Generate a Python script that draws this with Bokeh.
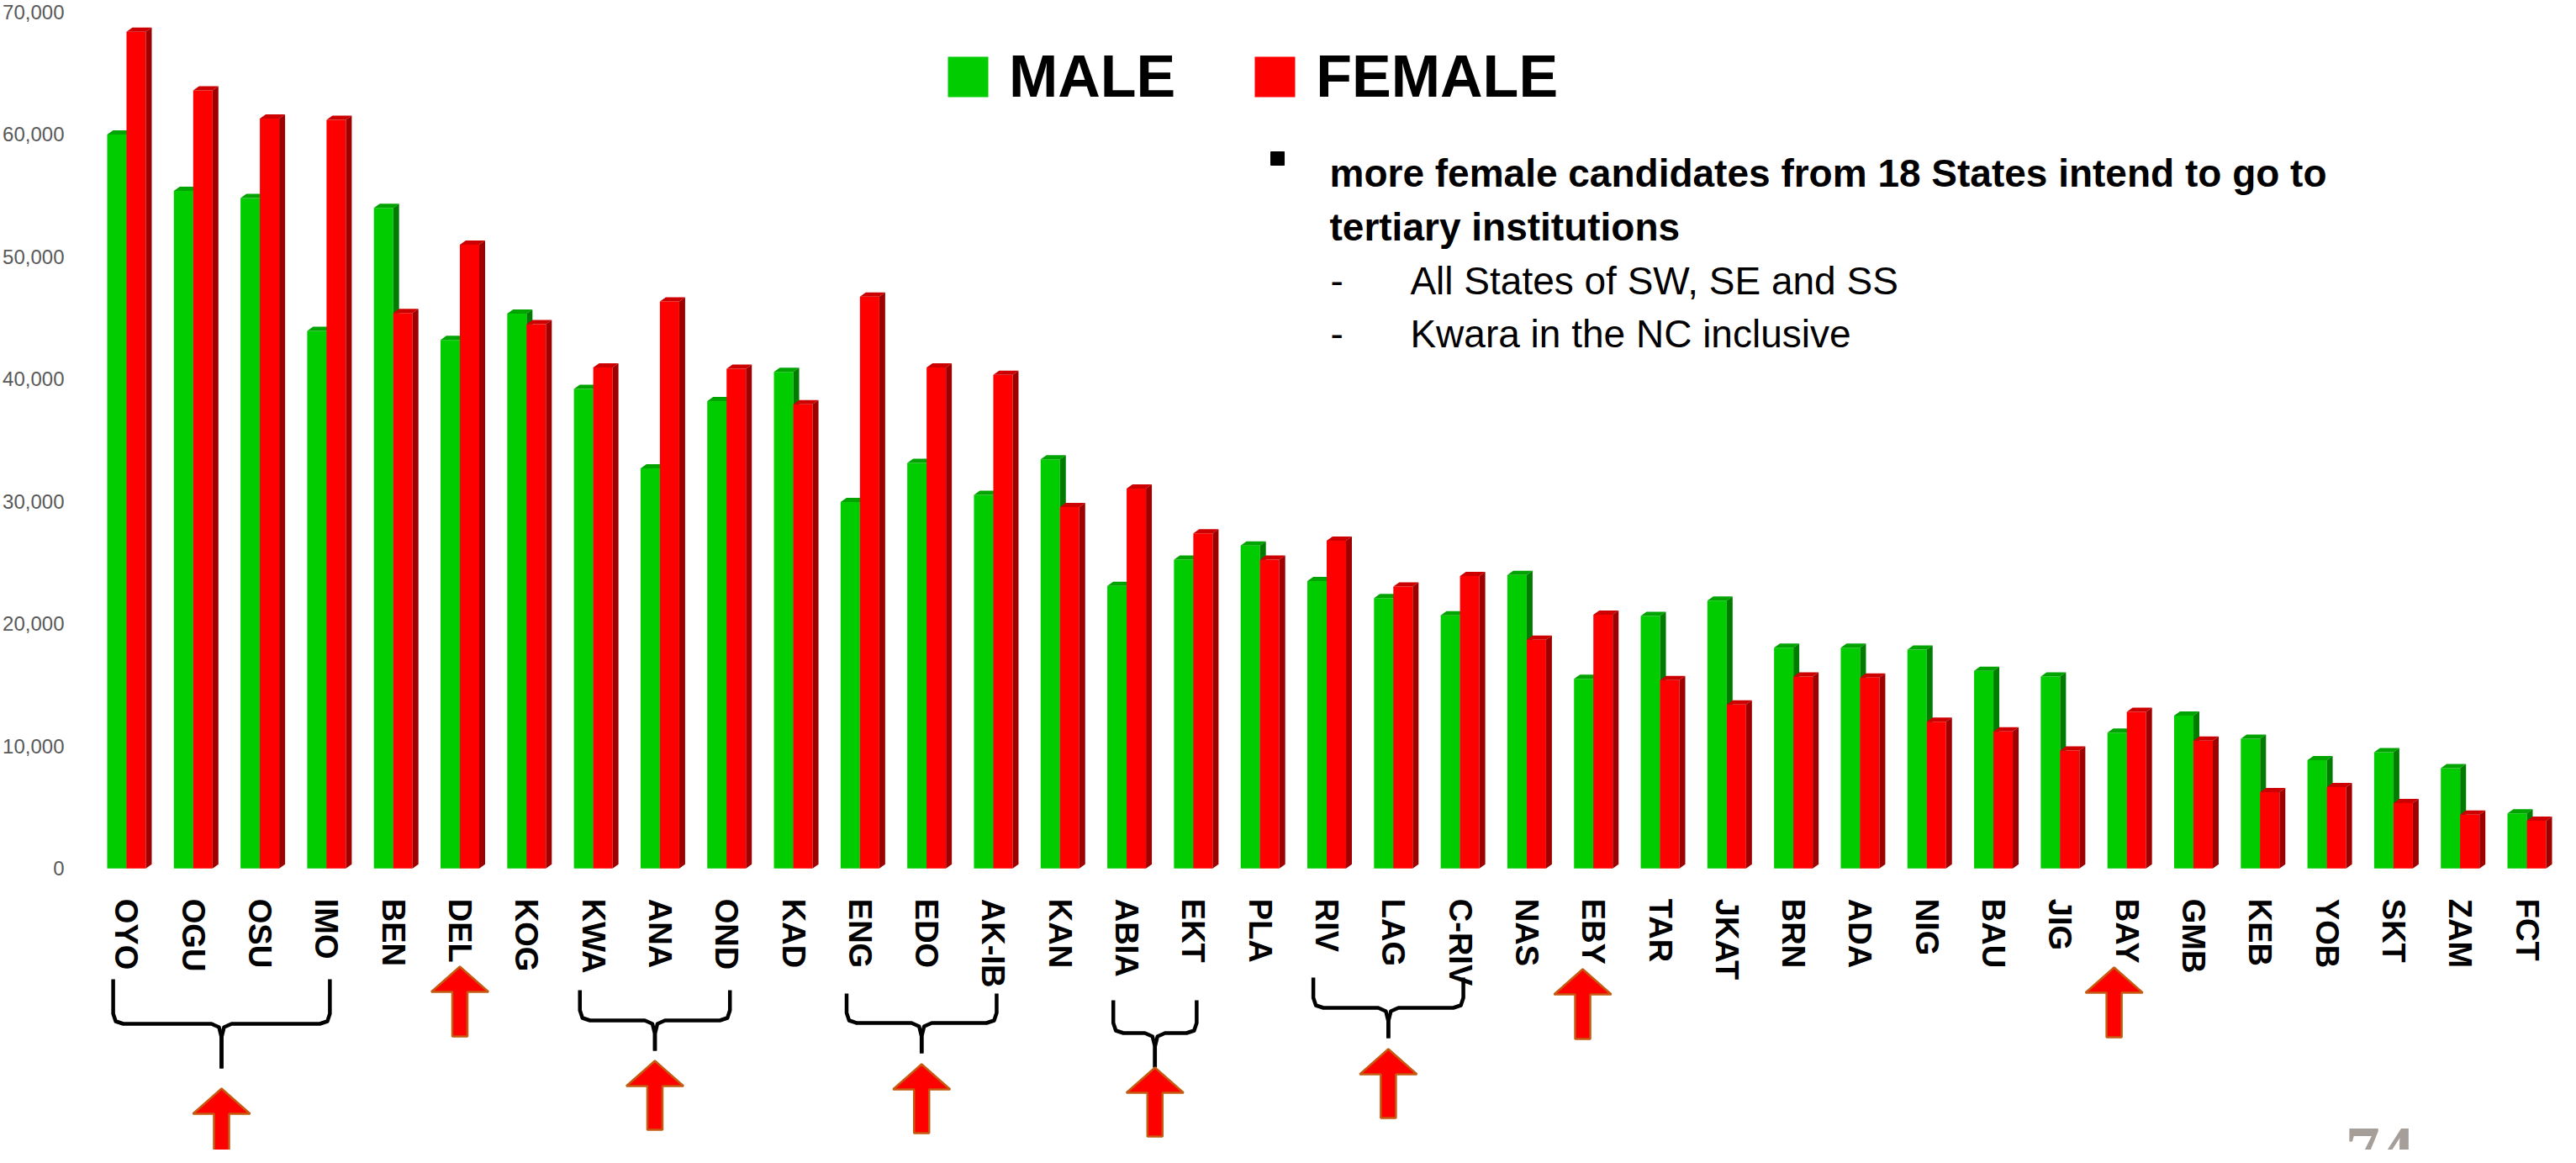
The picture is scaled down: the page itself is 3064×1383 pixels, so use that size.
from bokeh.plotting import figure
from bokeh.models import (FactorRange, Range1d, FixedTicker, NumeralTickFormatter,
                          ColumnDataSource, Legend, LegendItem)
from bokeh.transform import dodge
from bokeh.core.properties import value
from bokeh.embed import file_html
from bokeh.resources import INLINE

# ---------------- data ----------------
states = ["OYO", "OGU", "OSU", "IMO", "BEN", "DEL", "KOG", "KWA", "ANA", "OND",
          "KAD", "ENG", "EDO", "AK-IB", "KAN", "ABIA", "EKT", "PLA", "RIV", "LAG",
          "C-RIV", "NAS", "EBY", "TAR", "JKAT", "BRN", "ADA", "NIG", "BAU", "JIG",
          "BAY", "GMB", "KEB", "YOB", "SKT", "ZAM", "FCT"]
male = [60000, 55400, 54800, 43950, 54000, 43200, 45350, 39200, 32700, 38200,
        40600, 29950, 33150, 30550, 33450, 23100, 25250, 26400, 23500, 22100,
        20700, 24000, 15500, 20650, 21900, 18050, 18050, 17900, 16150, 15700,
        11100, 12500, 10600, 8850, 9500, 8200, 4500]
female = [68400, 63600, 61300, 61200, 45400, 51000, 44500, 40950, 46350, 40850,
          37950, 46750, 40950, 40350, 29550, 31050, 27400, 25250, 26800, 23050,
          23900, 18700, 20750, 15400, 13400, 15700, 15600, 12000, 11200, 9650,
          12800, 10450, 6250, 6650, 5350, 4400, 3900]
y_ticks = [0, 10000, 20000, 30000, 40000, 50000, 60000, 70000]
series_names = ["MALE", "FEMALE"]

note_lines = ["more female candidates from 18 States intend to go to",
              "tertiary institutions"]
sub_lines = ["All States of SW, SE and SS", "Kwara in the NC inclusive"]
# groups of states marked with a brace (first, last)
brace_groups = [("OYO", "IMO"), ("KWA", "OND"), ("ENG", "AK-IB"),
                ("ABIA", "EKT"), ("RIV", "C-RIV")]
single_marks = ["DEL", "EBY", "BAY"]
page_no = "74"

# ---------------- layout helpers ----------------
W, H = 3048, 1367
FL = 105                     # frame left inside figure (px)
P = 0.042                    # factor range padding
N = len(states)
S = (W - FL) / (N + 2 * P)   # px per category
Y0 = 1040.3                  # page-y of value 0
PPU = (Y0 - 22) / 70000      # px per value unit


def sx(rx):
    return (rx - 8 - FL) / S - P


def sy(ry):
    return (Y0 - ry) / PPU


GREEN, GREEN_TOP, GREEN_SIDE = "#00CC00", "#00A300", "#007C00"
RED, RED_TOP, RED_SIDE = "#FF0000", "#CC0000", "#9E0000"
FONT = "Liberation Sans"

p = figure(width=W, height=H, output_backend="svg", toolbar_location=None,
           x_range=FactorRange(factors=states, range_padding=P,
                               range_padding_units="absolute"),
           y_range=Range1d(sy(8 + H), sy(8)),
           min_border_left=FL, min_border_right=0, min_border_top=0,
           min_border_bottom=0)
p.outline_line_color = None
p.xgrid.visible = False
p.ygrid.visible = False
p.background_fill_color = "white"
p.border_fill_color = "white"

# y axis
yax = p.yaxis[0]
yax.ticker = FixedTicker(ticks=y_ticks, minor_ticks=[])
yax.formatter = NumeralTickFormatter(format="0,0")
yax.axis_line_color = None
yax.major_tick_line_color = None
yax.minor_tick_line_color = None
yax.major_label_text_font = FONT
yax.major_label_text_font_size = "24px"
yax.major_label_text_color = "#595959"
yax.major_label_standoff = 25

# x axis at value 0
xax = p.xaxis[0]
xax.fixed_location = 0
xax.axis_line_color = None
xax.major_tick_line_color = None
xax.minor_tick_line_color = None
xax.major_label_orientation = "vertical"
xax.major_label_text_font = FONT
xax.major_label_text_font_style = "bold"
xax.major_label_text_font_size = "38px"
xax.major_label_text_color = "black"
xax.major_label_standoff = 30

# ---------------- bars (pseudo 3D) ----------------
BW = 0.29
DX = 7 / S
DY = 5 / PPU
src = ColumnDataSource(dict(state=states, male=male, female=female))


def faces(vals, off):
    tx, ty, sxs, sys_ = [], [], [], []
    for i, h in enumerate(vals):
        l = i + 0.5 + off
        r = l + BW
        tx.append([l, l + DX, r + DX, r])
        ty.append([h, h + DY, h + DY, h])
        sxs.append([r, r + DX, r + DX, r])
        sys_.append([0, DY, h + DY, h])
    return tx, ty, sxs, sys_


g = p.vbar(x=dodge("state", -BW / 2, range=p.x_range), top="male", width=BW,
           source=src, fill_color=GREEN, line_color=None)
tx, ty, sxs, sys_ = faces(male, -BW)
p.patches(tx, ty, fill_color=GREEN_TOP, line_color=None)
p.patches(sxs, sys_, fill_color=GREEN_SIDE, line_color=None)

r = p.vbar(x=dodge("state", BW / 2, range=p.x_range), top="female", width=BW,
           source=src, fill_color=RED, line_color=None)
tx, ty, sxs, sys_ = faces(female, 0.0)
p.patches(tx, ty, fill_color=RED_TOP, line_color=None)
p.patches(sxs, sys_, fill_color=RED_SIDE, line_color=None)

# ---------------- legend ----------------
legend = Legend(items=[LegendItem(label=series_names[0], renderers=[g]),
                       LegendItem(label=series_names[1], renderers=[r])],
                orientation="horizontal", location=(1014, 1236),
                glyph_width=60, glyph_height=60, label_standoff=19, spacing=88,
                label_text_font=FONT, label_text_font_style="bold",
                label_text_font_size="70px", label_text_color="black",
                padding=0, margin=0, border_line_color=None,
                background_fill_alpha=0)
p.add_layout(legend)

# ---------------- note text ----------------
p.scatter([sx(1526)], [sy(196)], marker="square", size=16, color="black")
p.text([sx(1588)] * 2, [sy(213), sy(277)], text=note_lines,
       text_font=value(FONT), text_font_style="bold", text_font_size="46px",
       text_color="black", text_baseline="alphabetic", text_align="left")
p.text([sx(1589)] * 2, [sy(341), sy(404)], text=["-", "-"],
       text_font=value(FONT), text_font_size="46px", text_color="black",
       text_baseline="alphabetic", text_align="left")
p.text([sx(1684)] * 2, [sy(341), sy(404)], text=sub_lines,
       text_font=value(FONT), text_font_size="46px", text_color="black",
       text_baseline="alphabetic", text_align="left")

# ---------------- braces ----------------
brace_y = [(1172, 1225, 1278), (1185, 1221, 1257), (1189, 1224, 1260),
           (1197, 1236, 1277), (1170, 1206, 1242)]
bx, by = [], []
tips = []
k = 1 / S
for (a, b), (yt, yh, yb) in zip(brace_groups, brace_y):
    xl = states.index(a) + 0.5 - 0.2
    xr = states.index(b) + 0.5 + 0.05
    xm = (xl + xr) / 2
    tips.append((xm, yb))
    for sgn, xe in ((1, xl), (-1, xr)):
        bx.append([xe, xe, xe + sgn * 3 * k, xe + sgn * 12 * k,
                   xm - sgn * 12 * k, xm - sgn * 3 * k, xm, xm])
        by.append([sy(yt), sy(yh - 12), sy(yh - 3), sy(yh),
                   sy(yh), sy(yh + 4), sy(yh + 16), sy(yb)])
p.multi_line(bx, by, line_color="black", line_width=4.5, line_join="round")

# ---------------- arrows ----------------
arrow_tips = [1302, 1269, 1273, 1277, 1255]
arrows = []
for (xm, yb), tip in zip(tips, arrow_tips):
    arrows.append((xm, tip, tip + 82))
single_pos = {"DEL": (0.0, 1157), "EBY": (-0.16, 1160), "BAY": (-0.19, 1158)}
for s in single_marks:
    off, tip = single_pos[s]
    arrows.append((states.index(s) + 0.5 + off, tip, tip + 83))
ax_, ay_ = [], []
for xc, tip, bot in arrows:
    ax_.append([xc, xc + 34 * k, xc + 9 * k, xc + 9 * k, xc - 9 * k,
                xc - 9 * k, xc - 34 * k])
    ay_.append([sy(tip), sy(tip + 30), sy(tip + 30), sy(bot), sy(bot),
                sy(tip + 30), sy(tip + 30)])
p.patches(ax_, ay_, fill_color="#FF0000", line_color="#C55A11", line_width=2.5)

# ---------------- page number ----------------
p.text([sx(2797)], [sy(1349)], text=[page_no], text_font=value("Liberation Serif"),
       text_font_style="bold", text_font_size="82px", text_color="#A59E99",
       text_baseline="top", text_align="left")

open("out.html", "w").write(file_html(p, INLINE))
